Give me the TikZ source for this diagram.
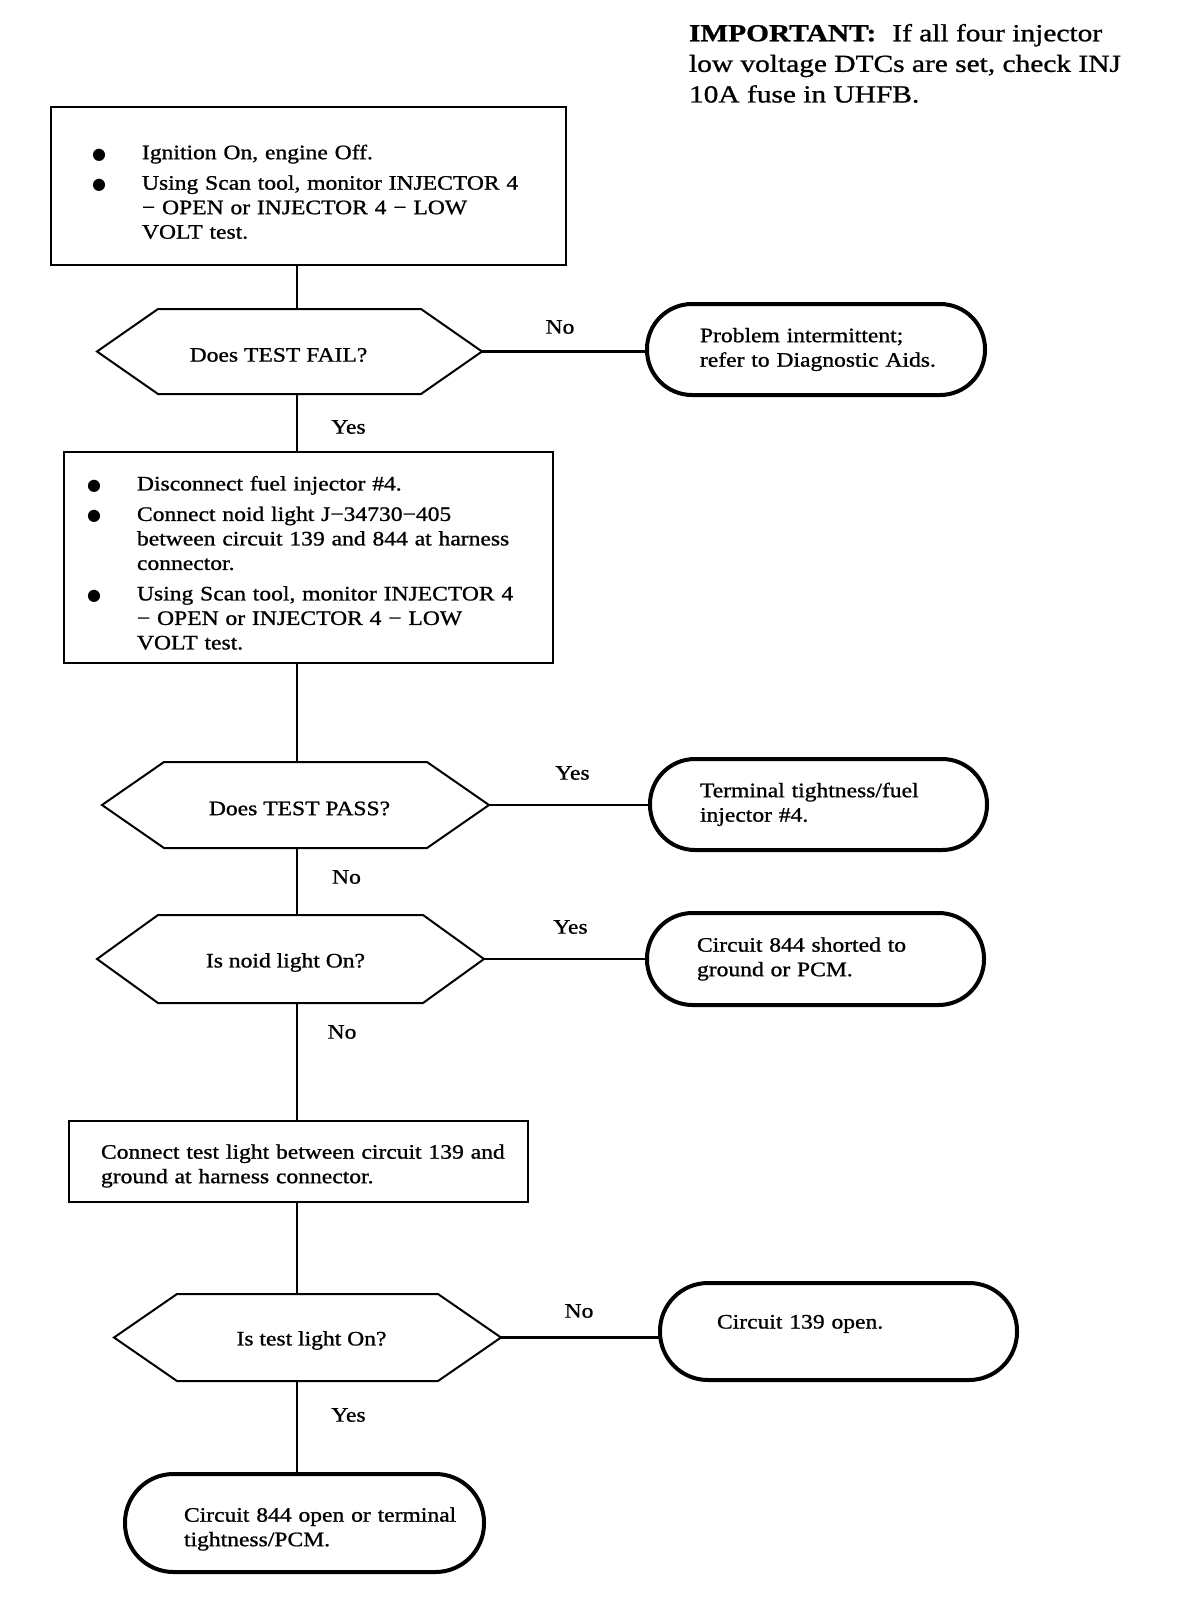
\documentclass[tikz,border=0pt]{standalone}
\usepackage{fontspec}
\setmainfont{Liberation Serif}[FakeStretch=1.15,FakeBold=1]
\newfontfamily\impfont{Liberation Serif}[FakeStretch=1.2,FakeBold=1]
\newfontfamily\symfont{DejaVu Sans}
\newcommand\ntext{\fontsize{20.5}{24.5}\selectfont}
\newcommand\itext{\impfont\fontsize{24.5}{30.6}\selectfont}
\newcommand\bul{{\symfont\fontsize{16}{16}\selectfont ●}}
\newcommand\lines[1]{\begin{tabular}{@{}l@{}}#1\end{tabular}}
\newcommand\lowered[2]{\raisebox{#1}[\height][\depth]{#2}}
\newcommand\hextext[3]{\raisebox{#2}[\height][\depth]{\makebox[0pt]{\hspace*{#1}#3}}}
\newcommand\drawhex[2]{\draw[hexline] (#1.west) -- ([xshift=#2]#1.north west) -- ([xshift=-#2]#1.north east) -- (#1.east) -- ([xshift=-#2]#1.south east) -- ([xshift=#2]#1.south west) -- cycle;}
\begin{document}
\begin{tikzpicture}[x=1pt,y=-1pt,
  every node/.style={outer sep=0pt},
  stepbox/.style={draw, line width=2.5pt, inner ysep=0pt, align=left, font=\ntext},
  hexn/.style={inner sep=0pt, font=\ntext},
  hexline/.style={line width=2pt, line join=miter},
  term/.style={draw, line width=4pt, inner ysep=0pt, align=left, font=\ntext},
  conn/.style={line width=2.2pt},
  lbl/.style={font=\ntext, inner sep=0pt},
]
\fill[white] (0,0) rectangle (1184,1598);
\useasboundingbox (0,0) rectangle (1184,1598);

% note
\node[font=\itext, align=left, anchor=north west, inner sep=0pt] (imp) at (689,24)
  {\textbf{IMPORTANT:}\hspace{16pt}If all four injector\\low voltage DTCs are set, check INJ\\10A fuse in UHFB.};

% step boxes
\node[stepbox, minimum width=515pt, minimum height=158pt, text width=433pt, inner xsep=41pt] (b1) at (308.5,186)
  {\lowered{-8pt}{\begin{tabular}{@{}p{50pt}@{}l@{}}\bul & Ignition On, engine Off.\\[6pt]
   \bul & Using Scan tool, monitor INJECTOR 4\\ & − OPEN or INJECTOR 4 − LOW\\ & VOLT test.\end{tabular}}};
\node[stepbox, minimum width=489pt, minimum height=211pt, text width=443pt, inner xsep=23pt] (b2) at (308.5,557.5)
  {\lowered{-7.5pt}{\begin{tabular}{@{}p{50pt}@{}l@{}}\bul & Disconnect fuel injector \#4.\\[6pt]
   \bul & Connect noid light J−34730−405\\ & between circuit 139 and 844 at harness\\ & connector.\\[6pt]
   \bul & Using Scan tool, monitor INJECTOR 4\\ & − OPEN or INJECTOR 4 − LOW\\ & VOLT test.\end{tabular}}};
\node[stepbox, minimum width=459pt, minimum height=81pt, text width=395pt, inner xsep=32pt] (b3) at (298.5,1161.5)
  {\lowered{-4.5pt}{\lines{Connect test light between circuit 139 and\\ground at harness connector.}}};

% decisions
\node[hexn, minimum width=385pt, minimum height=85pt] (h1) at (289.5,351.5) {\hextext{-22pt}{-3.5pt}{Does TEST FAIL?}};
\drawhex{h1}{61pt}
\node[hexn, minimum width=387pt, minimum height=86pt] (h2) at (295.5,805) {\hextext{8pt}{-3.5pt}{Does TEST PASS?}};
\drawhex{h2}{62pt}
\node[hexn, minimum width=387pt, minimum height=88pt] (h3) at (290.5,959) {\hextext{-10pt}{-3.5pt}{Is noid light On?}};
\drawhex{h3}{61pt}
\node[hexn, minimum width=387pt, minimum height=87pt] (h4) at (307.5,1337.5) {\hextext{8pt}{-3pt}{Is test light On?}};
\drawhex{h4}{63pt}

% terminals
\node[term, minimum height=91pt, text width=232pt, inner xsep=53pt, rounded corners=45pt] (t1) at (816,349.5)
  {\lines{Problem intermittent;\\refer to Diagnostic Aids.}};
\node[term, minimum height=91pt, text width=237pt, inner xsep=50pt, rounded corners=45pt] (t2) at (818.5,804.5)
  {\lines{Terminal tightness/fuel\\injector \#4.}};
\node[term, minimum height=92pt, text width=237pt, inner xsep=50pt, rounded corners=45.5pt] (t3) at (815.5,959)
  {\lines{Circuit 844 shorted to\\ground or PCM.}};
\node[term, minimum height=97pt, text width=243pt, inner xsep=57pt, rounded corners=48pt] (t4) at (838.5,1331.5)
  {\raisebox{7.6pt}[17.15pt][7.35pt]{\lines{Circuit 139 open.}}};
\node[term, minimum height=98pt, text width=241pt, inner xsep=59pt, rounded corners=48.5pt] (t5) at (304.5,1523)
  {\lowered{-6pt}{\lines{Circuit 844 open or terminal\\tightness/PCM.}}};

% connectors
\coordinate (tx) at (297,0);
\draw[conn] (b1.south -| tx) -- (h1.north -| tx);
\draw[conn] (h1.south -| tx) -- (b2.north -| tx);
\draw[conn] (b2.south -| tx) -- (h2.north -| tx);
\draw[conn] (h2.south -| tx) -- (h3.north -| tx);
\draw[conn] (h3.south -| tx) -- (b3.north -| tx);
\draw[conn] (b3.south -| tx) -- (h4.north -| tx);
\draw[conn] (h4.south -| tx) -- (t5.north -| tx);
\draw[conn] (h1.east) -- (h1.east -| t1.west);
\draw[conn] (h2.east) -- (h2.east -| t2.west);
\draw[conn] (h3.east) -- (h3.east -| t3.west);
\draw[conn] (h4.east) -- (h4.east -| t4.west);

% labels
\node[lbl] (l1) at (560,327) {No};
\node[lbl] (l2) at (348.5,427) {Yes};
\node[lbl] (l3) at (572.5,773) {Yes};
\node[lbl] (l4) at (346.5,877) {No};
\node[lbl] (l5) at (570.5,927) {Yes};
\node[lbl] (l6) at (342,1032) {No};
\node[lbl] (l7) at (579,1311) {No};
\node[lbl] (l8) at (348.5,1415) {Yes};
\end{tikzpicture}
\end{document}
